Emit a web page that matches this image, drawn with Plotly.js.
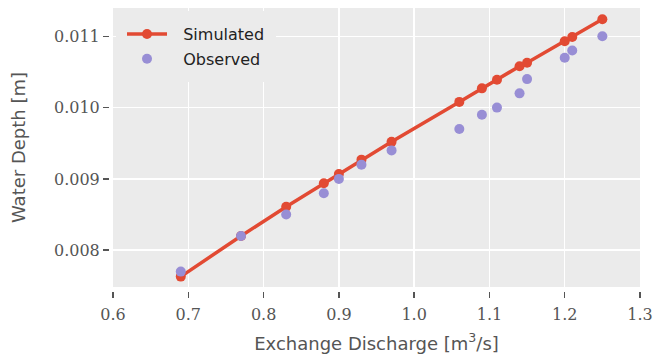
<!DOCTYPE html>
<html><head><meta charset="utf-8">
<script src="https://cdn.plot.ly/plotly-3.0.1.min.js"></script>
<style>body{margin:0;background:#fff}#c{width:654px;height:354px}</style>
</head><body><div id="c"></div>
<script>
const discharge = [0.69, 0.77, 0.83, 0.88, 0.90, 0.93, 0.97, 1.06, 1.09, 1.11, 1.14, 1.15, 1.20, 1.21, 1.25];
const simulated = [0.00763, 0.00820, 0.00861, 0.00894, 0.00907, 0.00927, 0.00952, 0.01008, 0.01027, 0.01039, 0.01058, 0.01063, 0.01093, 0.01099, 0.01124];
const observed  = [0.0077, 0.0082, 0.0085, 0.0088, 0.0090, 0.0092, 0.0094, 0.0097, 0.0099, 0.0100, 0.0102, 0.0104, 0.0107, 0.0108, 0.0110];
const xTicks = [0.6, 0.7, 0.8, 0.9, 1.0, 1.1, 1.2, 1.3];
const yTicks = [0.008, 0.009, 0.010, 0.011];
const seriesNames = ['Simulated', 'Observed'];

const traces = [
  {x: discharge, y: simulated, mode: 'lines+markers', name: '\u2002\u2009' + seriesNames[0], legendgroup: 's', legendrank: 1,
   line: {color: '#E24A33', width: 3.5}, marker: {color: '#E24A33', size: 10}},
  {x: discharge, y: observed, mode: 'markers', name: '\u2002\u2009' + seriesNames[1], legendgroup: 'o', legendrank: 2,
   marker: {color: '#988ED5', size: 10}}
];
const tickFont = {family: 'DejaVu Serif, serif', size: 16, color: '#555'};
const titleFont = {family: 'DejaVu Sans, sans-serif', size: 18, color: '#555'};
const layout = {
  width: 654, height: 354,
  margin: {l: 109, r: 14, t: 8, b: 63},
  paper_bgcolor: '#fff', plot_bgcolor: '#EBEBEB',
  showlegend: true,
  legend: {x: 0.0132, y: 0.989, xanchor: 'left', yanchor: 'top', bgcolor: '#EBEBEB',
           bordercolor: '#EBEBEB', borderwidth: 6,
           font: {family: 'DejaVu Sans, sans-serif', size: 16, color: '#222'},
           traceorder: 'grouped', tracegroupgap: 1, itemwidth: 40},
  xaxis: {range: [0.6, 1.3], domain: [0.0076, 1], anchor: 'free', position: 0,
          tickvals: xTicks, ticktext: xTicks.map(v => v.toFixed(1)),
          showgrid: true, gridcolor: '#fff', gridwidth: 1.5, zeroline: false,
          ticks: 'outside', ticklen: 6, tickcolor: '#555', tickwidth: 1.5,
          ticklabelstandoff: 3,
          tickfont: tickFont, showline: false,
          title: {text: 'Exchange Discharge [m<sup>3</sup>/s]', font: titleFont, standoff: 14}},
  yaxis: {range: [0.007484, 0.011397], domain: [0.0141, 1], anchor: 'free', position: 0,
          tickvals: yTicks, ticktext: yTicks.map(v => v.toFixed(3)),
          showgrid: true, gridcolor: '#fff', gridwidth: 1.5, zeroline: false,
          ticks: 'outside', ticklen: 6, tickcolor: '#555', tickwidth: 1.5,
          tickfont: tickFont, showline: false,
          title: {text: 'Water Depth [m]', font: titleFont, standoff: 22}}
};
Plotly.newPlot('c', traces, layout, {displayModeBar: false, staticPlot: true});
</script></body></html>
